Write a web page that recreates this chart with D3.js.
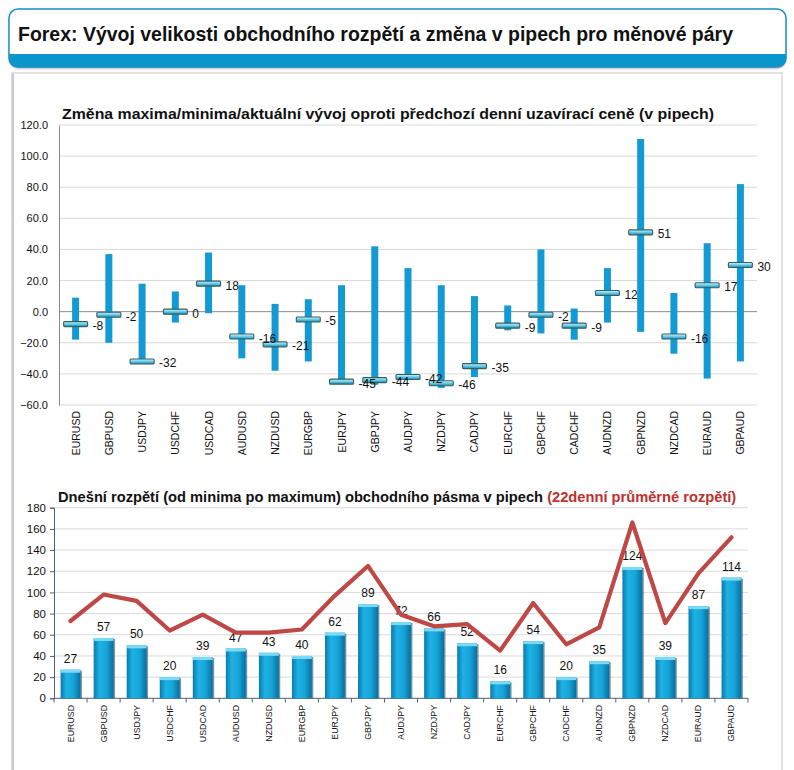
<!DOCTYPE html>
<html><head><meta charset="utf-8">
<script src="https://cdn.jsdelivr.net/npm/d3@7"></script>
<style>body{margin:0;background:#fff;}svg{display:block;font-family:"Liberation Sans",Arial,sans-serif;}</style>
</head><body>
<svg id="c" width="794" height="770"></svg>
<script>
const pairs = ["EURUSD","GBPUSD","USDJPY","USDCHF","USDCAD","AUDUSD","NZDUSD","EURGBP","EURJPY","GBPJPY","AUDJPY","NZDJPY","CADJPY","EURCHF","GBPCHF","CADCHF","AUDNZD","GBPNZD","NZDCAD","EURAUD","GBPAUD"];
const highs = [9,37,18,13,38,17,5,8,17,42,28,17,10,4,40,2,28,111,12,44,82];
const lows = [-18,-20,-32,-7,-1,-30,-38,-32,-45,-47,-44,-49,-42,-12,-14,-18,-7,-13,-27,-43,-32];
const current = [-8,-2,-32,0,18,-16,-21,-5,-45,-44,-42,-46,-35,-9,-2,-9,12,51,-16,17,30];
const ranges = [27,57,50,20,39,47,43,40,62,89,72,66,52,16,54,20,35,124,39,87,114];
const avg22 = [73,98,92,64,79,62,62,65,97,125,79,68,70,45,90,51,67,166,71,118,152];
const topTicks = [-60,-40,-20,0,20,40,60,80,100,120];
const botTicks = [0,20,40,60,80,100,120,140,160,180];
const mainTitle = "Forex: Vývoj velikosti obchodního rozpětí a změna v pipech pro měnové páry";
const topTitle = "Změna maxima/minima/aktuální vývoj oproti předchozí denní uzavírací ceně (v pipech)";
const botTitleA = "Dnešní rozpětí (od minima po maximum) obchodního pásma v pipech ";
const botTitleB = "(22denní průměrné rozpětí)";

const svg = d3.select("#c");
const defs = svg.append("defs");

// gradients
const mg = defs.append("linearGradient").attr("id","mk").attr("x1",0).attr("y1",0).attr("x2",0).attr("y2",1);
[["0%","#d4f4fc"],["45%","#6fd0ee"],["100%","#1a8cb8"]].forEach(s=>mg.append("stop").attr("offset",s[0]).attr("stop-color",s[1]));
const bg = defs.append("linearGradient").attr("id","bar").attr("x1",0).attr("y1",0).attr("x2",1).attr("y2",0);
[["0%","#0a7aae"],["30%","#1fb2e4"],["65%","#16a4d8"],["100%","#0a6e9e"]].forEach(s=>bg.append("stop").attr("offset",s[0]).attr("stop-color",s[1]));
const hc = defs.append("clipPath").attr("id","hclip");
hc.append("rect").attr("x",9).attr("y",9).attr("width",777).attr("height",58).attr("rx",9);
const sh = defs.append("filter").attr("id","shadow").attr("x","-5%").attr("y","-5%").attr("width","110%").attr("height","120%");
sh.append("feDropShadow").attr("dx",0).attr("dy",1.5).attr("stdDeviation",1.2).attr("flood-color","#000").attr("flood-opacity",0.35);

// header
svg.append("rect").attr("x",9).attr("y",9).attr("width",777).attr("height",58).attr("rx",9)
  .attr("fill","#fff").attr("filter","url(#shadow)");
svg.append("rect").attr("x",0).attr("y",54).attr("width",794).attr("height",14).attr("fill","#0a95cc").attr("clip-path","url(#hclip)");
svg.append("rect").attr("x",9).attr("y",9).attr("width",777).attr("height",58).attr("rx",9)
  .attr("fill","none").attr("stroke","#1a8fc6").attr("stroke-width",1.5);
svg.append("text").attr("x",18).attr("y",41).attr("font-size",20.5).attr("font-weight","bold").attr("fill","#111")
  .attr("textLength",715).attr("lengthAdjust","spacingAndGlyphs").text(mainTitle);

// panel
svg.append("rect").attr("x",12).attr("y",73).attr("width",770).attr("height",720)
  .attr("fill","#fff").attr("stroke","#cfcfcf").attr("stroke-width",1.2);
svg.append("line").attr("x1",13).attr("x2",13).attr("y1",74).attr("y2",770).attr("stroke","#bbb").attr("stroke-width",1.5);

// ---------- top chart ----------
const x1 = d3.scaleBand().domain(pairs).range([59,757]);
const y1 = d3.scaleLinear().domain([-60,120]).range([405,125]);
const g1 = svg.append("g");
g1.append("text").attr("x",62).attr("y",119).attr("font-size",15).attr("font-weight","bold").attr("fill","#111")
  .attr("textLength",652).attr("lengthAdjust","spacingAndGlyphs").text(topTitle);
g1.selectAll("line.grid").data(topTicks).join("line").attr("class","grid")
  .attr("x1",59).attr("x2",757).attr("y1",d=>y1(d)).attr("y2",d=>y1(d))
  .attr("stroke",d=>d===0?"#8a8a8a":"#d9d9d9").attr("stroke-width",1);
const ax1 = g1.append("g").attr("transform","translate(59,0)")
  .call(d3.axisLeft(y1).tickValues(topTicks).tickFormat(d3.format(".1f")).tickSize(0).tickPadding(11));
ax1.select(".domain").attr("stroke","#8a8a8a");
ax1.selectAll("text").attr("font-size",11).attr("fill","#111").attr("font-family","Liberation Sans, Arial, sans-serif");
// bars
g1.selectAll("rect.rng").data(pairs).join("rect").attr("class","rng")
  .attr("x",(d)=>x1(d)+x1.bandwidth()/2-3.5).attr("width",7)
  .attr("y",(d,i)=>y1(highs[i])).attr("height",(d,i)=>y1(lows[i])-y1(highs[i]))
  .attr("fill","#139ad3");
// markers
g1.selectAll("rect.mk").data(pairs).join("rect").attr("class","mk")
  .attr("x",d=>x1(d)+x1.bandwidth()/2-12).attr("width",24)
  .attr("y",(d,i)=>y1(current[i])-2.5).attr("height",5).attr("rx",1)
  .attr("fill","url(#mk)").attr("stroke","#36605e").attr("stroke-width",1.1);
g1.selectAll("text.lbl").data(pairs).join("text").attr("class","lbl")
  .attr("x",d=>x1(d)+x1.bandwidth()/2+17).attr("y",(d,i)=>y1(current[i])+6)
  .attr("font-size",12).attr("fill","#111").text((d,i)=>current[i]);
// x labels
g1.selectAll("text.xl").data(pairs).join("text").attr("class","xl")
  .attr("transform",d=>`translate(${x1(d)+x1.bandwidth()/2+4},411) rotate(-90)`)
  .attr("text-anchor","end").attr("font-size",10.5).attr("fill","#111").text(d=>d);

// ---------- bottom chart ----------
const x2 = d3.scaleBand().domain(pairs).range([54,748]).paddingInner(0.4).paddingOuter(0.2);
const xc = d3.scaleBand().domain(pairs).range([54,748]);
const y2 = d3.scaleLinear().domain([0,180]).range([698.3,507.7]);
const g2 = svg.append("g");
const bt = g2.append("text").attr("x",58).attr("y",502).attr("font-size",15).attr("font-weight","bold").attr("fill","#111");
bt.append("tspan").text(botTitleA);
bt.append("tspan").attr("fill","#c0302e").text(botTitleB);
const natural = bt.node().getComputedTextLength();
bt.attr("font-size",15*679/natural);

g2.selectAll("line.grid").data(botTicks.slice(1)).join("line").attr("class","grid")
  .attr("x1",54).attr("x2",748).attr("y1",d=>y2(d)).attr("y2",d=>y2(d))
  .attr("stroke","#d9d9d9").attr("stroke-width",1);
const ax2 = g2.append("g").attr("transform","translate(54,0)")
  .call(d3.axisLeft(y2).tickValues(botTicks).tickSize(4).tickPadding(4));
ax2.selectAll(".domain, line").attr("stroke","#4f5f78");
ax2.selectAll("text").attr("font-size",11.5).attr("fill","#111").attr("font-family","Liberation Sans, Arial, sans-serif");
// bottom axis
g2.append("line").attr("x1",54).attr("x2",748).attr("y1",698.3).attr("y2",698.3).attr("stroke","#4f5f78");
g2.selectAll("line.xt").data(pairs.concat(["__end"])).join("line").attr("class","xt")
  .attr("x1",(d,i)=>54+i*xc.bandwidth()).attr("x2",(d,i)=>54+i*xc.bandwidth())
  .attr("y1",698.3).attr("y2",702.5).attr("stroke","#4f5f78");
// bars
const bars = g2.selectAll("g.bar").data(pairs).join("g").attr("class","bar");
bars.append("rect").attr("x",d=>x2(d)+1.5).attr("width",x2.bandwidth())
  .attr("y",(d,i)=>y2(ranges[i])+1).attr("height",(d,i)=>y2(0)-y2(ranges[i])-1)
  .attr("fill","#0d4f6e").attr("opacity",0.6);
bars.append("rect").attr("x",d=>x2(d)).attr("width",x2.bandwidth())
  .attr("y",(d,i)=>y2(ranges[i])).attr("height",(d,i)=>y2(0)-y2(ranges[i]))
  .attr("fill","url(#bar)");
bars.append("rect").attr("x",d=>x2(d)).attr("width",x2.bandwidth())
  .attr("y",(d,i)=>y2(ranges[i])).attr("height",3).attr("fill","#7ddaf4");
g2.selectAll("text.vl").data(pairs).join("text").attr("class","vl")
  .attr("x",d=>xc(d)+xc.bandwidth()/2).attr("y",(d,i)=>y2(ranges[i])-7)
  .attr("text-anchor","middle").attr("font-size",12).attr("fill","#111").text((d,i)=>ranges[i]);
// line
const line = d3.line().x(d=>xc(d.p)+xc.bandwidth()/2).y(d=>y2(d.v));
g2.append("path").datum(pairs.map((p,i)=>({p,v:avg22[i]})))
  .attr("d",line).attr("fill","none").attr("stroke","#bd4845").attr("stroke-width",4.2)
  .attr("stroke-linejoin","round").attr("stroke-linecap","round");
// x labels
g2.selectAll("text.xl").data(pairs).join("text").attr("class","xl")
  .attr("transform",d=>`translate(${xc(d)+xc.bandwidth()/2+3},705) rotate(-90)`)
  .attr("text-anchor","end").attr("font-size",8.8).attr("fill","#111").text(d=>d);
</script>
</body></html>
